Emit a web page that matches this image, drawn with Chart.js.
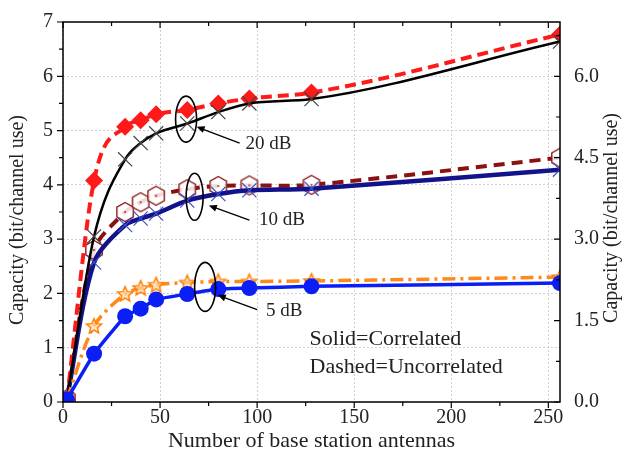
<!DOCTYPE html>
<html>
<head>
<meta charset="utf-8">
<script src="https://cdn.jsdelivr.net/npm/chart.js@4.4.1/dist/chart.umd.min.js"></script>
<style>
  html, body { margin: 0; padding: 0; background: #fff; }
  #wrap { width: 627px; height: 463px; }
</style>
</head>
<body>
<div id="wrap"><canvas id="myChart" width="627" height="463"></canvas></div>
<script>
// number of base station antennas
const antennas = [2, 16, 32, 40, 48, 64, 80, 96, 128, 256];

// capacity (bit/channel use)
const corr20 = [0.05, 3.05, 4.47, 4.77, 4.95, 5.13, 5.34, 5.5, 5.58, 6.64];
const uncorr20 = [0.05, 4.08, 5.07, 5.19, 5.3, 5.38, 5.5, 5.59, 5.7, 6.77];
const corr10 = [0.05, 2.57, 3.26, 3.38, 3.47, 3.71, 3.83, 3.9, 3.93, 4.28];
const uncorr10 = [0.05, 2.8, 3.5, 3.68, 3.8, 3.92, 3.98, 3.99, 4.0, 4.5];
const corr5 = [0.05, 0.89, 1.58, 1.72, 1.89, 1.99, 2.08, 2.1, 2.13, 2.19];
const uncorr5 = [0.05, 1.4, 1.99, 2.1, 2.16, 2.2, 2.22, 2.22, 2.23, 2.3];

const xTicks = [0, 50, 100, 150, 200, 250];
const leftTicks = [0, 1, 2, 3, 4, 5, 6, 7];
const rightTicks = [0, 1.5, 3, 4.5, 6];

const FONT = '"Liberation Serif", "Times New Roman", serif';
const TEXT = '#222';
const Y_TITLE = 'Capacity (bit/channel use)';

// callouts (data units)
const callouts = [
    { label: '20 dB', ex: 63.4, ey: 5.21, rx: 10.5, ry: 23, from: [91, 4.77], to: [68.8, 5.07], tx: 94, ty: 4.76 },
    { label: '10 dB', ex: 67.8, ey: 3.78, rx: 8.5, ry: 23.5, from: [96, 3.35], to: [75.1, 3.62], tx: 101, ty: 3.35 },
    { label: '5 dB', ex: 73.2, ey: 2.12, rx: 10.5, ry: 24.5, from: [100, 1.7], to: [79.7, 1.97], tx: 104.5, ty: 1.68 }
];
const notes = [
    { text: 'Solid=Correlated', x: 127, y: 1.15 },
    { text: 'Dashed=Uncorrelated', x: 127, y: 0.64 }
];

function toPoints(values) {
    return antennas.map((x, i) => ({ x: x, y: values[i] }));
}

function makeHexagon() {
    const c = document.createElement('canvas');
    c.width = 24; c.height = 24;
    const g = c.getContext('2d');
    g.beginPath();
    for (let i = 0; i < 6; i++) {
        const a = -Math.PI / 2 + i * Math.PI / 3;
        const px = 12 + 9.5 * Math.cos(a), py = 12 + 9.5 * Math.sin(a);
        if (i === 0) g.moveTo(px, py); else g.lineTo(px, py);
    }
    g.closePath();
    g.fillStyle = 'rgba(255,255,255,0.85)';
    g.fill();
    g.strokeStyle = '#8b1a1a';
    g.lineWidth = 1.4;
    g.stroke();
    g.beginPath();
    g.arc(12, 12, 1.1, 0, Math.PI * 2);
    g.fillStyle = '#c03030';
    g.fill();
    return c;
}

function makeStar() {
    const c = document.createElement('canvas');
    c.width = 20; c.height = 20;
    const g = c.getContext('2d');
    g.beginPath();
    for (let i = 0; i < 10; i++) {
        const r = i % 2 === 0 ? 8 : 3.6;
        const a = -Math.PI / 2 + i * Math.PI / 5;
        const px = 10 + r * Math.cos(a), py = 10.5 + r * Math.sin(a);
        if (i === 0) g.moveTo(px, py); else g.lineTo(px, py);
    }
    g.closePath();
    g.fillStyle = 'rgba(255,215,170,0.7)';
    g.fill();
    g.strokeStyle = '#ff8000';
    g.lineWidth = 1.4;
    g.stroke();
    return c;
}

function drawVerticalTitle(ctx, x, y) {
    ctx.save();
    ctx.fillStyle = TEXT;
    ctx.font = '20px ' + FONT;
    ctx.textAlign = 'center';
    ctx.textBaseline = 'middle';
    ctx.translate(x, y);
    ctx.rotate(-Math.PI / 2);
    ctx.fillText(Y_TITLE, 0, 0);
    ctx.restore();
}

const framePlugin = {
    id: 'frame',
    afterDraw(chart) {
        const { ctx, chartArea: a, scales } = chart;
        const sx = scales.x, sy = scales.y, sy2 = scales.y2;
        ctx.save();
        ctx.strokeStyle = '#000';
        ctx.lineWidth = 1.5;
        ctx.strokeRect(a.left, a.top, a.right - a.left, a.bottom - a.top);

        ctx.lineWidth = 1.2;
        ctx.beginPath();
        for (let v = 0; v <= 250; v += 25) {
            const px = sx.getPixelForValue(v);
            const len = v % 50 === 0 ? 6 : 4;
            ctx.moveTo(px, a.bottom); ctx.lineTo(px, a.bottom + len);
            ctx.moveTo(px, a.top); ctx.lineTo(px, a.top + len);
        }
        for (let v = 0; v <= 7; v += 0.5) {
            const py = sy.getPixelForValue(v);
            const len = v % 1 === 0 ? 6 : 4;
            ctx.moveTo(a.left, py); ctx.lineTo(a.left - len, py);
        }
        for (let v = 0; v <= 6.76; v += 0.75) {
            const py = sy2.getPixelForValue(v);
            const len = Math.abs(v / 1.5 - Math.round(v / 1.5)) < 0.01 ? 6 : 4;
            ctx.moveTo(a.right, py); ctx.lineTo(a.right - len, py);
        }
        ctx.stroke();
        ctx.restore();

        // axis titles on both sides, reading bottom to top
        drawVerticalTitle(ctx, 18, 220);
        drawVerticalTitle(ctx, 612, 218);

        // callouts
        ctx.save();
        ctx.strokeStyle = '#000';
        callouts.forEach(c => {
            const cx = sx.getPixelForValue(c.ex), cy = sy.getPixelForValue(c.ey);
            ctx.lineWidth = 1.6;
            ctx.beginPath();
            ctx.ellipse(cx, cy, c.rx, c.ry, 0, 0, Math.PI * 2);
            ctx.stroke();

            const x1 = sx.getPixelForValue(c.from[0]), y1 = sy.getPixelForValue(c.from[1]);
            const x2 = sx.getPixelForValue(c.to[0]), y2 = sy.getPixelForValue(c.to[1]);
            const ang = Math.atan2(y2 - y1, x2 - x1);
            ctx.lineWidth = 1.3;
            ctx.beginPath();
            ctx.moveTo(x1, y1);
            ctx.lineTo(x2 - 5 * Math.cos(ang), y2 - 5 * Math.sin(ang));
            ctx.stroke();
            ctx.fillStyle = '#000';
            ctx.beginPath();
            ctx.moveTo(x2, y2);
            ctx.lineTo(x2 - 8 * Math.cos(ang) + 3.5 * Math.sin(ang), y2 - 8 * Math.sin(ang) - 3.5 * Math.cos(ang));
            ctx.lineTo(x2 - 8 * Math.cos(ang) - 3.5 * Math.sin(ang), y2 - 8 * Math.sin(ang) + 3.5 * Math.cos(ang));
            ctx.closePath();
            ctx.fill();

            ctx.fillStyle = TEXT;
            ctx.font = '19px ' + FONT;
            ctx.textAlign = 'left';
            ctx.textBaseline = 'middle';
            ctx.fillText(c.label, sx.getPixelForValue(c.tx), sy.getPixelForValue(c.ty));
        });
        ctx.fillStyle = TEXT;
        ctx.font = '22px ' + FONT;
        ctx.textAlign = 'left';
        ctx.textBaseline = 'middle';
        notes.forEach(n => {
            ctx.fillText(n.text, sx.getPixelForValue(n.x), sy.getPixelForValue(n.y));
        });
        ctx.restore();
    }
};

const hexagon = makeHexagon();
const star = makeStar();

const datasets = [
    {
        label: '5 dB correlated', data: toPoints(corr5),
        borderColor: '#0a1ef5', backgroundColor: '#0a1ef5', borderWidth: 3.5,
        pointStyle: 'circle', pointRadius: 8, pointBorderWidth: 0, tension: 0.1
    },
    {
        label: '5 dB uncorrelated', data: toPoints(uncorr5),
        borderColor: '#ff8a1c', backgroundColor: '#ff8a1c', borderWidth: 3.5, borderDash: [13, 5, 3, 5],
        pointStyle: star, pointRadius: 9, tension: 0.3
    },
    {
        label: '20 dB correlated', data: toPoints(corr20),
        borderColor: '#000', backgroundColor: 'rgba(0,0,0,0)', borderWidth: 2.5,
        pointStyle: 'crossRot', pointRadius: 10, pointBorderColor: '#444', pointBorderWidth: 1.2,
        cubicInterpolationMode: 'monotone'
    },
    {
        label: '20 dB uncorrelated', data: toPoints(uncorr20),
        borderColor: '#ff1a1a', backgroundColor: '#ff1a1a', borderWidth: 4, borderDash: [11, 6],
        pointStyle: 'rectRot', pointRadius: 9, pointBorderWidth: 0, cubicInterpolationMode: 'monotone'
    },
    {
        label: '10 dB correlated', data: toPoints(corr10),
        borderColor: '#12128a', backgroundColor: 'rgba(0,0,0,0)', borderWidth: 4.5,
        pointStyle: 'crossRot', pointRadius: 10, pointBorderColor: '#4050c8', pointBorderWidth: 1.2,
        tension: 0.3
    },
    {
        label: '10 dB uncorrelated', data: toPoints(uncorr10),
        borderColor: '#8b1010', backgroundColor: '#8b1010', borderWidth: 4, borderDash: [11, 7],
        pointStyle: hexagon, pointRadius: 10, tension: 0.3
    }
];

new Chart(document.getElementById('myChart'), {
    type: 'line',
    data: { datasets: datasets },
    options: {
        responsive: false,
        devicePixelRatio: 1,
        animation: false,
        layout: { padding: { top: 15, left: 0, right: 0, bottom: 0 } },
        plugins: { legend: { display: false }, tooltip: { enabled: false } },
        elements: { point: { hitRadius: 0 } },
        scales: {
            x: {
                type: 'linear', min: 0, max: 256,
                afterFit: s => { s.height = 61; },
                afterBuildTicks: s => { s.ticks = xTicks.map(v => ({ value: v })); },
                ticks: { font: { family: FONT, size: 20 }, color: TEXT, padding: 4, maxRotation: 0 },
                grid: { color: '#cfcfcf', drawTicks: false },
                border: { display: false, dash: [2, 2] },
                title: { display: true, text: 'Number of base station antennas', color: TEXT,
                         font: { family: FONT, size: 22 }, padding: { top: 0, bottom: 9 } }
            },
            y: {
                type: 'linear', position: 'left', min: 0, max: 7,
                afterFit: s => { s.width = 63; },
                afterBuildTicks: s => { s.ticks = leftTicks.map(v => ({ value: v })); },
                ticks: { font: { family: FONT, size: 20 }, color: TEXT, padding: 10 },
                grid: { color: '#cfcfcf', drawTicks: false },
                border: { display: false, dash: [2, 2] }
            },
            y2: {
                type: 'linear', position: 'right', min: 0, max: 7,
                afterFit: s => { s.width = 67; },
                afterBuildTicks: s => { s.ticks = rightTicks.map(v => ({ value: v })); },
                ticks: { font: { family: FONT, size: 20 }, color: TEXT, padding: 6,
                         callback: v => Number(v).toFixed(1) },
                grid: { display: false },
                border: { display: false }
            }
        }
    },
    plugins: [framePlugin]
});
</script>
</body>
</html>
